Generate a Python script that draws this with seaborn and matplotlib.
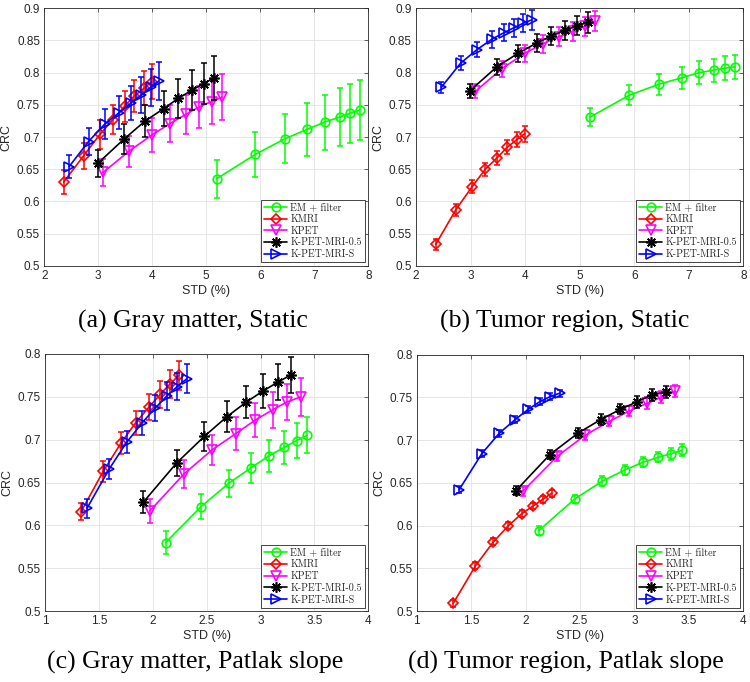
#set up modules
import numpy as np
import matplotlib
matplotlib.use("Agg")
import matplotlib.pyplot as plt
import seaborn as sns
from matplotlib.ticker import FuncFormatter

#legend names and styles, same order for all four panels
names = ["EM + filter", "KMRI", "KPET", "K-PET-MRI-0.5", "K-PET-MRI-S"]
colors = ["#00ff00", "#ff0000", "#ff00ff", "#000000", "#0000ff"]
markers = ["o", "D", "v", (8, 2, 0), ">"]
msizes = [6.2, 5, 6.8, 7.5, 6.8]

#STD (%) of the static images (shared by a and b)
static_std = [
    [5.19, 5.91, 6.45, 6.87, 7.19, 7.47, 7.67, 7.85],
    [2.36, 2.73, 3.03, 3.27, 3.49, 3.67, 3.85, 3.99],
    [3.09, 3.57, 3.99, 4.33, 4.62, 4.87, 5.10, 5.29],
    [2.99, 3.48, 3.87, 4.21, 4.48, 4.74, 4.95, 5.15],
    [2.46, 2.82, 3.12, 3.39, 3.61, 3.80, 3.97, 4.12],
]
#STD (%) of the Patlak slope images (shared by c and d)
patlak_std = [
    [2.12, 2.45, 2.705, 2.91, 3.077, 3.22, 3.335, 3.435],
    [1.335, 1.54, 1.705, 1.843, 1.965, 2.07, 2.16, 2.243],
    [1.974, 2.29, 2.55, 2.77, 2.953, 3.115, 3.246, 3.376],
    [1.912, 2.223, 2.48, 2.69, 2.87, 3.026, 3.16, 3.287],
    [1.39, 1.597, 1.758, 1.904, 2.024, 2.131, 2.227, 2.316],
]

#(a) gray matter, static
crc_a = [
    [0.635, 0.673, 0.697, 0.712, 0.723, 0.731, 0.737, 0.742],
    [0.630, 0.671, 0.704, 0.727, 0.748, 0.764, 0.776, 0.786],
    [0.645, 0.678, 0.703, 0.721, 0.735, 0.747, 0.755, 0.762],
    [0.659, 0.697, 0.725, 0.744, 0.760, 0.773, 0.783, 0.792],
    [0.654, 0.693, 0.720, 0.738, 0.753, 0.765, 0.777, 0.787],
]
err_a = [
    [0.030, 0.035, 0.038, 0.041, 0.043, 0.045, 0.046, 0.047],
    [0.018, 0.020, 0.022, 0.023, 0.024, 0.025, 0.026, 0.027],
    [0.021, 0.024, 0.027, 0.029, 0.031, 0.033, 0.035, 0.036],
    [0.021, 0.023, 0.025, 0.027, 0.030, 0.031, 0.032, 0.034],
    [0.018, 0.021, 0.023, 0.025, 0.027, 0.028, 0.029, 0.030],
]

#(b) tumor region, static
crc_b = [
    [0.731, 0.765, 0.782, 0.792, 0.800, 0.804, 0.807, 0.809],
    [0.533, 0.587, 0.623, 0.650, 0.668, 0.684, 0.696, 0.705],
    [0.771, 0.806, 0.830, 0.845, 0.856, 0.864, 0.872, 0.880],
    [0.772, 0.809, 0.830, 0.846, 0.857, 0.866, 0.873, 0.878],
    [0.777, 0.815, 0.836, 0.852, 0.862, 0.870, 0.877, 0.882],
]
err_b = [
    [0.014, 0.016, 0.016, 0.017, 0.018, 0.018, 0.019, 0.019],
    [0.008, 0.009, 0.010, 0.010, 0.011, 0.011, 0.012, 0.012],
    [0.011, 0.012, 0.013, 0.014, 0.015, 0.015, 0.015, 0.016],
    [0.011, 0.012, 0.013, 0.014, 0.014, 0.015, 0.015, 0.016],
    [0.009, 0.011, 0.012, 0.013, 0.013, 0.014, 0.014, 0.015],
]

#(c) gray matter, Patlak slope
crc_c = [
    [0.580, 0.622, 0.649, 0.667, 0.681, 0.691, 0.699, 0.705],
    [0.616, 0.663, 0.696, 0.720, 0.738, 0.753, 0.765, 0.775],
    [0.617, 0.660, 0.688, 0.707, 0.723, 0.735, 0.744, 0.750],
    [0.627, 0.673, 0.704, 0.727, 0.744, 0.757, 0.767, 0.776],
    [0.620, 0.666, 0.697, 0.720, 0.737, 0.751, 0.762, 0.771],
]
err_c = [
    [0.013, 0.015, 0.016, 0.018, 0.019, 0.019, 0.020, 0.021],
    [0.010, 0.012, 0.013, 0.014, 0.015, 0.016, 0.016, 0.017],
    [0.014, 0.016, 0.018, 0.019, 0.020, 0.021, 0.021, 0.022],
    [0.013, 0.015, 0.017, 0.018, 0.019, 0.020, 0.021, 0.021],
    [0.011, 0.012, 0.013, 0.014, 0.015, 0.016, 0.016, 0.017],
]

#(d) tumor region, Patlak slope
crc_d = [
    [0.594, 0.631, 0.652, 0.665, 0.674, 0.680, 0.684, 0.688],
    [0.509, 0.553, 0.581, 0.600, 0.614, 0.623, 0.631, 0.638],
    [0.640, 0.681, 0.706, 0.722, 0.734, 0.743, 0.750, 0.757],
    [0.641, 0.683, 0.708, 0.724, 0.736, 0.745, 0.753, 0.756],
    [0.642, 0.684, 0.708, 0.724, 0.736, 0.745, 0.751, 0.755],
]
err_d = [
    [0.005, 0.005, 0.006, 0.006, 0.006, 0.006, 0.007, 0.007],
    [0.004, 0.004, 0.004, 0.004, 0.004, 0.004, 0.004, 0.004],
    [0.005, 0.005, 0.006, 0.006, 0.006, 0.007, 0.007, 0.007],
    [0.005, 0.005, 0.006, 0.006, 0.006, 0.007, 0.007, 0.007],
    [0.004, 0.004, 0.004, 0.004, 0.004, 0.004, 0.004, 0.004],
]

captions = ["(a) Gray matter, Static", "(b) Tumor region, Static",
            "(c) Gray matter, Patlak slope", "(d) Tumor region, Patlak slope"]

sns.set_theme(style="whitegrid")
plt.rcParams["font.family"] = ["Liberation Sans", "DejaVu Sans"]
edge = "#262626"

fig = plt.figure(figsize=(7.5, 6.82), dpi=100)


def draw(ax, stds, crcs, errs, xticks, yticks):
    for i in range(5):
        ax.errorbar(stds[i], crcs[i], yerr=errs[i], fmt="none", ecolor=colors[i],
                    elinewidth=1.1, capsize=2.5, capthick=1.1, zorder=2 + i)
        sns.lineplot(x=stds[i], y=crcs[i], ax=ax, color=colors[i], sort=False,
                     errorbar=None, linewidth=1.2, marker=markers[i],
                     markersize=msizes[i], markerfacecolor="none",
                     markeredgecolor=colors[i], markeredgewidth=1.2,
                     label=names[i], zorder=2 + i)
    ax.set_xlim(xticks[0], xticks[-1])
    ax.set_ylim(yticks[0], yticks[-1])
    ax.set_xticks(xticks)
    ax.set_yticks(yticks)
    fmt = FuncFormatter(lambda v, p: "%g" % round(v, 3))
    ax.xaxis.set_major_formatter(fmt)
    ax.yaxis.set_major_formatter(fmt)
    ax.set_facecolor("white")
    ax.grid(True, color="#e2e2e2", linewidth=0.6)
    ax.set_axisbelow(True)
    for s in ax.spines.values():
        s.set_visible(True)
        s.set_color(edge)
        s.set_linewidth(0.6)
    ax.tick_params(direction="in", top=True, right=True, length=3, width=0.5,
                   colors=edge, labelsize=8.5, pad=3)
    ax.set_xlabel("STD (%)", fontsize=9, color=edge, labelpad=2)
    ax.set_ylabel("CRC", fontsize=9, color=edge, labelpad=3)
    leg = ax.legend(loc="lower right", prop={"family": "cmr10", "size": 7.2},
                    frameon=True, fancybox=False, framealpha=1, edgecolor=edge,
                    borderpad=0.3, labelspacing=0.22, handlelength=2.3,
                    handletextpad=0.3, borderaxespad=0.35)
    leg.get_frame().set_linewidth(0.6)


static_x = [2, 3, 4, 5, 6, 7, 8]
static_y = list(np.round(np.arange(0.5, 0.901, 0.05), 2))
patlak_x = [1, 1.5, 2, 2.5, 3, 3.5, 4]
patlak_y = list(np.round(np.arange(0.5, 0.801, 0.05), 2))

ax_a = fig.add_axes([0.059, 0.6104, 0.432, 0.3774])
ax_b = fig.add_axes([0.5547, 0.6104, 0.4364, 0.3774])
ax_c = fig.add_axes([0.060, 0.104, 0.431, 0.377])
ax_d = fig.add_axes([0.5556, 0.104, 0.4355, 0.376])

draw(ax_a, static_std, crc_a, err_a, static_x, static_y)
draw(ax_b, static_std, crc_b, err_b, static_x, static_y)
draw(ax_c, patlak_std, crc_c, err_c, patlak_x, patlak_y)
draw(ax_d, patlak_std, crc_d, err_d, patlak_x, patlak_y)

#subfigure captions
cap_pos = [(0.257, 0.528), (0.753, 0.528), (0.260, 0.029), (0.755, 0.029)]
for (cx, cy), text in zip(cap_pos, captions):
    fig.text(cx, cy, text, ha="center", va="center",
             family="Liberation Serif", fontsize=18.5, color="black")

fig.savefig("out.png", dpi=100, facecolor="white")
